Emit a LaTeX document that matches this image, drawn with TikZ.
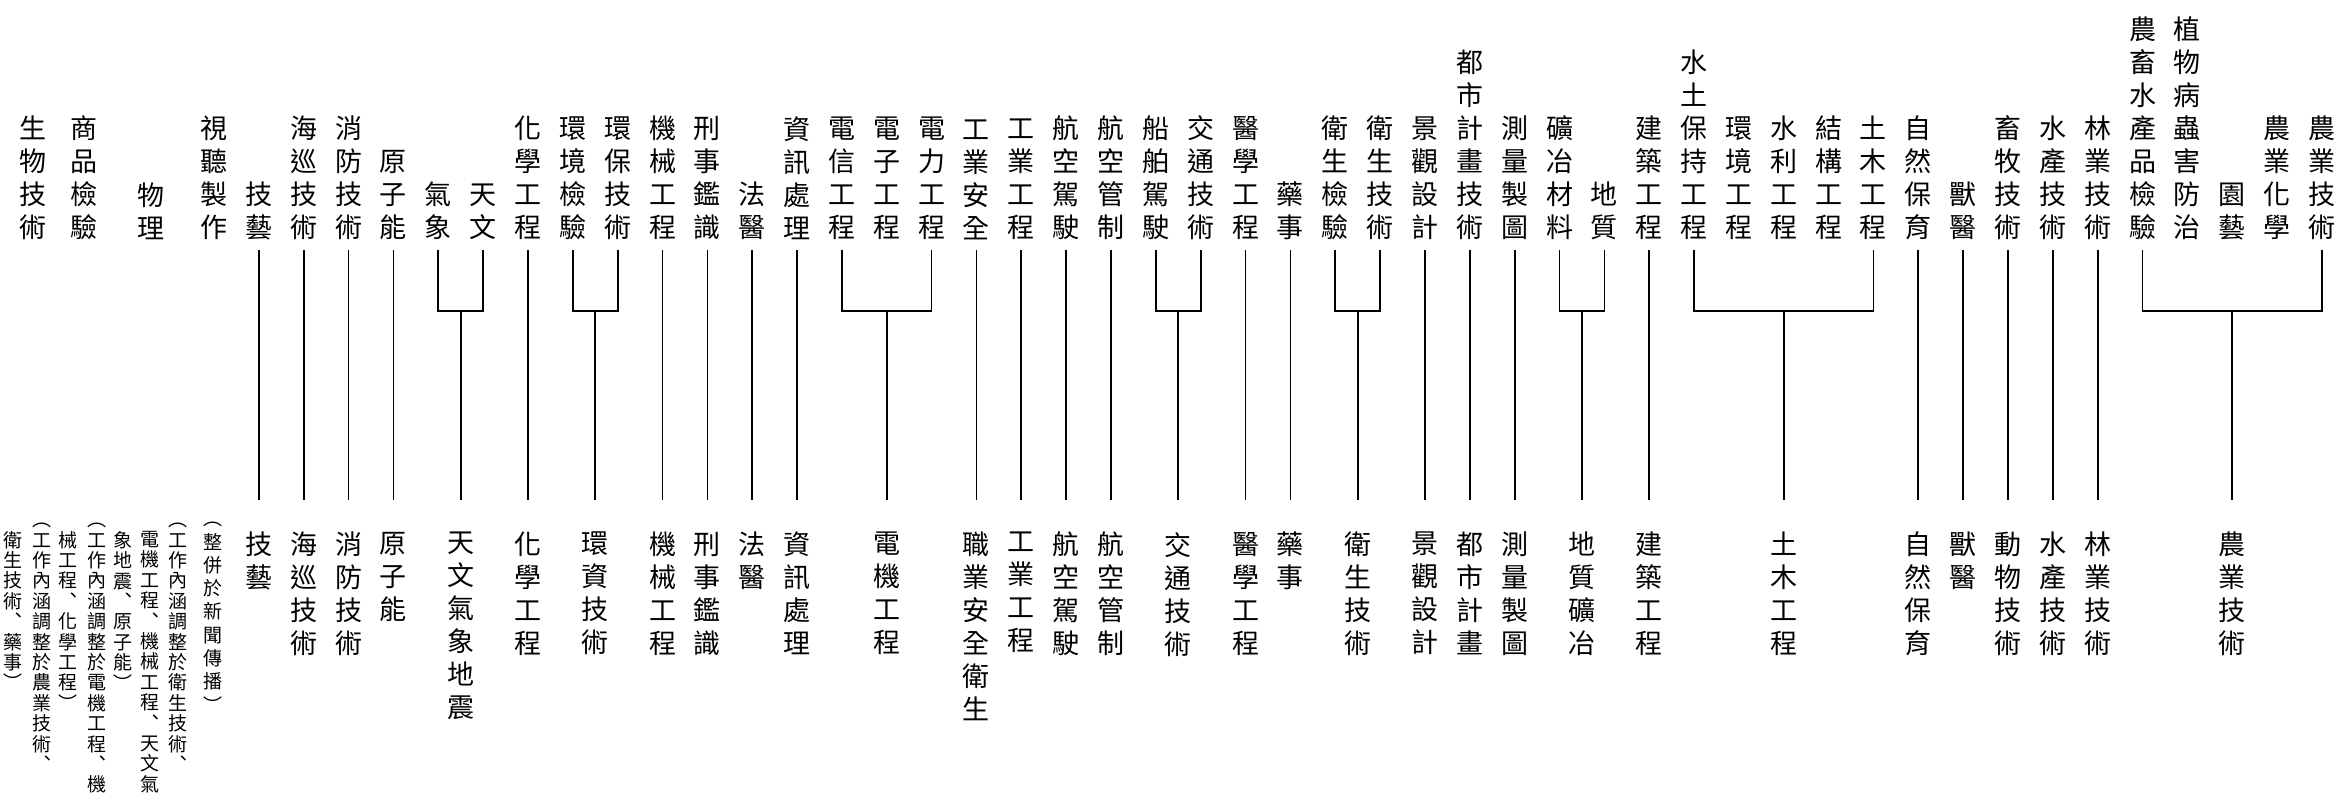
\documentclass[tikz,border=0pt]{standalone}
\usepackage{fontspec}
\setmainfont{Noto Sans CJK TC}
\newcommand\mybracket[3]{%
  \draw[link] (#1 |- top) -- (#1 |- bar) -- (#2 |- bar) -- (#2 |- top);
  \draw[link] (#3 |- bar) -- (#3 |- bot);}
\begin{document}
\begin{tikzpicture}[x=1pt,y=-1pt,
  lab/.style={font=\fontsize{27}{33}\selectfont, align=center, inner sep=0pt},
  toplab/.style={lab, anchor=south},
  botlab/.style={lab, anchor=north},
  note/.style={font=\fontsize{19}{20.4}\selectfont, align=center, inner sep=0pt, anchor=north},
  widenote/.style={note, font=\fontsize{19}{23.3}\selectfont},
  link/.style={line width=1.7pt, line join=miter}]
\useasboundingbox[fill=white] (0,0) rectangle (2342,803);
\coordinate (top) at (0,250);
\coordinate (bar) at (0,311);
\coordinate (bot) at (0,500);
% top labels
\node[toplab] (t1) at (33,240) {生\\物\\技\\術};
\node[toplab] (t2) at (84,240) {商\\品\\檢\\驗};
\node[toplab] (t3) at (151,240) {物\\理};
\node[toplab] (t4) at (214,240) {視\\聽\\製\\作};
\node[toplab] (t5) at (258.85,240) {技\\藝};
\node[toplab] (t6) at (303.7,240) {海\\巡\\技\\術};
\node[toplab] (t7) at (348.55,240) {消\\防\\技\\術};
\node[toplab] (t8) at (393.4,240) {原\\子\\能};
\node[toplab] (t9) at (438.25,240) {氣\\象};
\node[toplab] (t10) at (483.1,240) {天\\文};
\node[toplab] (t11) at (527.95,240) {化\\學\\工\\程};
\node[toplab] (t12) at (572.8,240) {環\\境\\檢\\驗};
\node[toplab] (t13) at (617.65,240) {環\\保\\技\\術};
\node[toplab] (t14) at (662.5,240) {機\\械\\工\\程};
\node[toplab] (t15) at (707.35,240) {刑\\事\\鑑\\識};
\node[toplab] (t16) at (752.2,240) {法\\醫};
\node[toplab] (t17) at (797.05,240) {資\\訊\\處\\理};
\node[toplab] (t18) at (841.9,240) {電\\信\\工\\程};
\node[toplab] (t19) at (886.75,240) {電\\子\\工\\程};
\node[toplab] (t20) at (931.6,240) {電\\力\\工\\程};
\node[toplab] (t21) at (976.45,240) {工\\業\\安\\全};
\node[toplab] (t22) at (1021.3,240) {工\\業\\工\\程};
\node[toplab] (t23) at (1066.15,240) {航\\空\\駕\\駛};
\node[toplab] (t24) at (1111,240) {航\\空\\管\\制};
\node[toplab] (t25) at (1155.85,240) {船\\舶\\駕\\駛};
\node[toplab] (t26) at (1200.7,240) {交\\通\\技\\術};
\node[toplab] (t27) at (1245.55,240) {醫\\學\\工\\程};
\node[toplab] (t28) at (1290.4,240) {藥\\事};
\node[toplab] (t29) at (1335.25,240) {衛\\生\\檢\\驗};
\node[toplab] (t30) at (1380.1,240) {衛\\生\\技\\術};
\node[toplab] (t31) at (1424.95,240) {景\\觀\\設\\計};
\node[toplab] (t32) at (1469.8,240) {都\\市\\計\\畫\\技\\術};
\node[toplab] (t33) at (1514.65,240) {測\\量\\製\\圖};
\node[toplab] (t34) at (1559.5,240) {礦\\冶\\材\\料};
\node[toplab] (t35) at (1604.35,240) {地\\質};
\node[toplab] (t36) at (1649.2,240) {建\\築\\工\\程};
\node[toplab] (t37) at (1694.05,240) {水\\土\\保\\持\\工\\程};
\node[toplab] (t38) at (1738.9,240) {環\\境\\工\\程};
\node[toplab] (t39) at (1783.75,240) {水\\利\\工\\程};
\node[toplab] (t40) at (1828.6,240) {結\\構\\工\\程};
\node[toplab] (t41) at (1873.45,240) {土\\木\\工\\程};
\node[toplab] (t42) at (1918.3,240) {自\\然\\保\\育};
\node[toplab] (t43) at (1963.15,240) {獸\\醫};
\node[toplab] (t44) at (2008,240) {畜\\牧\\技\\術};
\node[toplab] (t45) at (2052.85,240) {水\\產\\技\\術};
\node[toplab] (t46) at (2097.7,240) {林\\業\\技\\術};
\node[toplab] (t47) at (2142.55,240) {農\\畜\\水\\產\\品\\檢\\驗};
\node[toplab] (t48) at (2187.4,240) {植\\物\\病\\蟲\\害\\防\\治};
\node[toplab] (t49) at (2232.25,240) {園\\藝};
\node[toplab] (t50) at (2277.1,240) {農\\業\\化\\學};
\node[toplab] (t51) at (2321.95,240) {農\\業\\技\\術};
% bottom labels
\node[botlab] (b5) at (258.85,532) {技\\藝};
\node[botlab] (b6) at (303.7,532) {海\\巡\\技\\術};
\node[botlab] (b7) at (348.55,532) {消\\防\\技\\術};
\node[botlab] (b8) at (393.4,532) {原\\子\\能};
\node[botlab] (b9) at (460.7,532) {天\\文\\氣\\象\\地\\震};
\node[botlab] (b11) at (527.95,532) {化\\學\\工\\程};
\node[botlab] (b12) at (595.2,532) {環\\資\\技\\術};
\node[botlab] (b14) at (662.5,532) {機\\械\\工\\程};
\node[botlab] (b15) at (707.35,532) {刑\\事\\鑑\\識};
\node[botlab] (b16) at (752.2,532) {法\\醫};
\node[botlab] (b17) at (797.05,532) {資\\訊\\處\\理};
\node[botlab] (b18) at (886.75,532) {電\\機\\工\\程};
\node[botlab] (b21) at (976.45,532) {職\\業\\安\\全\\衛\\生};
\node[botlab] (b22) at (1021.3,532) {工\\業\\工\\程};
\node[botlab] (b23) at (1066.15,532) {航\\空\\駕\\駛};
\node[botlab] (b24) at (1111,532) {航\\空\\管\\制};
\node[botlab] (b25) at (1178.3,532) {交\\通\\技\\術};
\node[botlab] (b27) at (1245.55,532) {醫\\學\\工\\程};
\node[botlab] (b28) at (1290.4,532) {藥\\事};
\node[botlab] (b29) at (1357.7,532) {衛\\生\\技\\術};
\node[botlab] (b31) at (1424.95,532) {景\\觀\\設\\計};
\node[botlab] (b32) at (1469.8,532) {都\\市\\計\\畫};
\node[botlab] (b33) at (1514.65,532) {測\\量\\製\\圖};
\node[botlab] (b34) at (1581.9,532) {地\\質\\礦\\冶};
\node[botlab] (b36) at (1649.2,532) {建\\築\\工\\程};
\node[botlab] (b37) at (1783.75,532) {土\\木\\工\\程};
\node[botlab] (b42) at (1918.3,532) {自\\然\\保\\育};
\node[botlab] (b43) at (1963.15,532) {獸\\醫};
\node[botlab] (b44) at (2008,532) {動\\物\\技\\術};
\node[botlab] (b45) at (2052.85,532) {水\\產\\技\\術};
\node[botlab] (b46) at (2097.7,532) {林\\業\\技\\術};
\node[botlab] (b47) at (2232.25,532) {農\\業\\技\\術};
% notes
\node[widenote] (n4) at (213,522) {︵\\整\\併\\於\\新\\聞\\傳\\播\\︶};
\node[note] (n3a) at (178,523) {︵\\工\\作\\內\\涵\\調\\整\\於\\衛\\生\\技\\術\\︑};
\node[note] (n3b) at (150,531) {電\\機\\工\\程\\︑\\機\\械\\工\\程\\︑\\天\\文\\氣};
\node[note] (n3c) at (123,531) {象\\地\\震\\︑\\原\\子\\能\\︶};
\node[note] (n2a) at (97,523) {︵\\工\\作\\內\\涵\\調\\整\\於\\電\\機\\工\\程\\︑\\機};
\node[note] (n2b) at (68,531) {械\\工\\程\\︑\\化\\學\\工\\程\\︶};
\node[note] (n1a) at (42,523) {︵\\工\\作\\內\\涵\\調\\整\\於\\農\\業\\技\\術\\︑};
\node[note] (n1b) at (13,531) {衛\\生\\技\\術\\︑\\藥\\事\\︶};
% single connectors
\foreach \n in {5,6,7,8,11,14,15,16,17,21,22,23,24,27,28,31,32,33,36,42,43,44,45,46}
  \draw[link] (t\n |- top) -- (b\n |- bot);
% merging brackets
\mybracket{t9}{t10}{b9}
\mybracket{t12}{t13}{b12}
\mybracket{t18}{t20}{b18}
\mybracket{t25}{t26}{b25}
\mybracket{t29}{t30}{b29}
\mybracket{t34}{t35}{b34}
\mybracket{t37}{t41}{b37}
\mybracket{t47}{t51}{b47}
\end{tikzpicture}
\end{document}
